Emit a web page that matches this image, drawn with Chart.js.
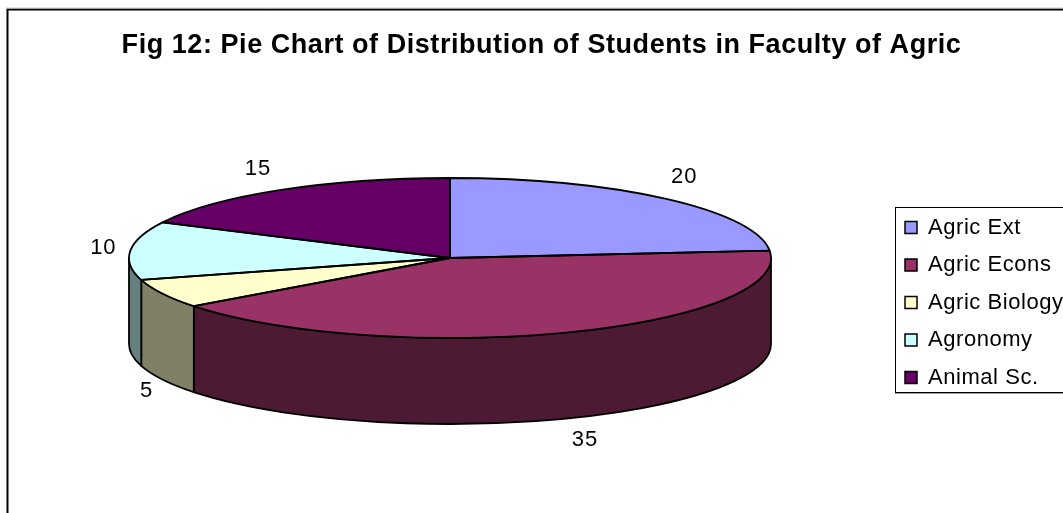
<!DOCTYPE html>
<html><head><meta charset="utf-8">
<style>html,body{margin:0;padding:0;background:#fff;overflow:hidden}canvas{display:block}</style>
<script src="https://cdn.jsdelivr.net/npm/chart.js@4"></script>
</head><body><canvas id="c" width="1063" height="513"></canvas>
<script>
const categories = ['Agric Ext','Agric Econs','Agric Biology','Agronomy','Animal Sc.'];
const students = [20,35,5,10,15];
const topColors = ['#9999FF','#993366','#FFFFCC','#CCFFFF','#660066'];
const sideColors = ['#4D4D80','#4D1A33','#808066','#668080','#330033'];
const chartTitle = 'Fig 12: Pie Chart of Distribution of Students in Faculty of Agric';

const view = {cx:450, cy:258, rx:321, ry:80, depth:86};
const labelNudge = [[18,-22],[19,21],[-16,11],[-27,-3],[-23,-21]];

const pie3d = {
  id:'pie3d',
  afterLayout(chart){
    const lg = chart.legend;
    lg.left = 889.5; lg.right = 1100; lg.top = 201; lg.bottom = 1000;
  },
  beforeDraw(chart){
    const c = chart.ctx;
    c.letterSpacing='0.55px';
    c.save();
    c.strokeStyle='#000'; c.lineWidth=2;
    c.beginPath(); c.moveTo(7.5,513); c.lineTo(7.5,9.5); c.lineTo(1063,9.5); c.stroke();
    c.strokeStyle='#c8c8c8'; c.lineWidth=1;
    c.beginPath(); c.moveTo(6,8); c.lineTo(1063,8); c.stroke();
    c.strokeStyle='#000'; c.lineWidth=1;
    c.strokeRect(895.5,207.5,220,185);
    c.strokeStyle='#999';
    c.beginPath(); c.moveTo(895,393.5); c.lineTo(1063,393.5); c.stroke();
    c.restore();
  },
  beforeDatasetsDraw(chart){
    const c = chart.ctx, arcs = chart.getDatasetMeta(0).data;
    c.save();
    c.lineWidth = 1.8; c.strokeStyle = '#000'; c.lineJoin='round';
    arcs.forEach((a,i)=>{
      const s = Math.max(a.startAngle,0), e = Math.min(a.endAngle,Math.PI);
      if (e <= s) return;
      c.beginPath();
      c.ellipse(view.cx,view.cy,view.rx,view.ry,0,s,e);
      c.ellipse(view.cx,view.cy+view.depth,view.rx,view.ry,0,e,s,true);
      c.closePath();
      c.fillStyle = sideColors[i];
      c.fill(); c.stroke();
    });
    c.restore();
  },
  beforeDatasetDraw(chart){
    const c = chart.ctx, a = chart.getDatasetMeta(0).data[0];
    c.save();
    c.translate(view.cx,view.cy);
    c.scale(view.rx/a.outerRadius, view.ry/a.outerRadius);
    c.translate(-a.x,-a.y);
  },
  afterDatasetDraw(chart){
    chart.ctx.restore();
  },
  afterDatasetsDraw(chart){
    const c = chart.ctx, arcs = chart.getDatasetMeta(0).data;
    c.save();
    c.lineWidth = 1.8; c.strokeStyle = '#000'; c.lineJoin='round';
    arcs.forEach(a=>{
      c.beginPath();
      c.moveTo(view.cx,view.cy);
      c.ellipse(view.cx,view.cy,view.rx,view.ry,0,a.startAngle,a.endAngle);
      c.closePath();
      c.stroke();
    });
    c.fillStyle='#000'; c.font='22px "Liberation Sans"'; c.textAlign='center'; c.textBaseline='middle';
    c.letterSpacing='1px';
    arcs.forEach((a,i)=>{
      const m=(a.startAngle+a.endAngle)/2;
      const x=view.cx+view.rx*Math.cos(m)+labelNudge[i][0];
      const y=view.cy+view.ry*Math.sin(m)+(Math.sin(m)>0?view.depth:0)+labelNudge[i][1];
      c.fillText(String(students[i]),x,y);
    });
    c.restore();
  }
};

new Chart(document.getElementById('c'),{
  type:'pie',
  data:{labels:categories,datasets:[{data:students,backgroundColor:topColors,borderWidth:0}]},
  plugins:[pie3d],
  options:{
    responsive:false,animation:false,
    layout:{padding:{left:20}},
    plugins:{
      tooltip:{enabled:false},
      title:{display:true,text:chartTitle,color:'#000',align:'center',
        font:{family:'"Liberation Sans"',size:27,weight:'bold'},
        padding:{top:29.5,bottom:10}},
      legend:{display:true,position:'right',align:'start',
        labels:{boxWidth:12,boxHeight:12,padding:15.5,color:'#000',
          font:{family:'"Liberation Sans"',size:22},
          generateLabels(chart){
            return Chart.overrides.pie.plugins.legend.labels.generateLabels(chart)
              .map(it=>Object.assign(it,{strokeStyle:'#000',lineWidth:1.5}));
          }}}
    }
  }
});
</script></body></html>
